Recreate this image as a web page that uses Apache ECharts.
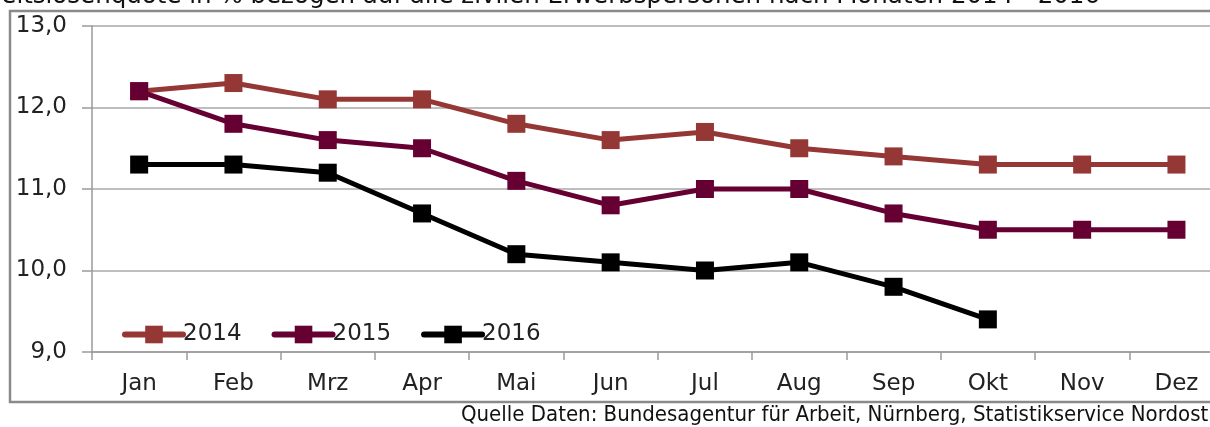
<!DOCTYPE html>
<html>
<head>
<meta charset="utf-8">
<script src="https://cdn.jsdelivr.net/npm/echarts@6/dist/echarts.min.js"></script>
<style>html,body{margin:0;padding:0;background:#fff;}#c{width:1210px;height:427px;}</style>
</head>
<body>
<div id="c"></div>
<script>
const months = ['Jan','Feb','Mrz','Apr','Mai','Jun','Jul','Aug','Sep','Okt','Nov','Dez'];
const s2014 = [12.2, 12.3, 12.1, 12.1, 11.8, 11.6, 11.7, 11.5, 11.4, 11.3, 11.3, 11.3];
const s2015 = [12.2, 11.8, 11.6, 11.5, 11.1, 10.8, 11.0, 11.0, 10.7, 10.5, 10.5, 10.5];
const s2016 = [11.3, 11.3, 11.2, 10.7, 10.2, 10.1, 10.0, 10.1, 9.8, 9.4];
const titleText = 'Arbeitslosenquote in % bezogen auf alle zivilen Erwerbspersonen nach Monaten 2014 - 2016';
const sourceText = 'Quelle Daten: Bundesagentur für Arbeit, Nürnberg, Statistikservice Nordost';

const chart = echarts.init(document.getElementById('c'), null, {renderer: 'canvas'});
const font = '"DejaVu Sans", Verdana, sans-serif';
function mk(name, data, color) {
  return {
    name, type: 'line', data,
    symbol: 'rect', symbolSize: 18,
    lineStyle: {color, width: 5},
    itemStyle: {color},
    emphasis: {disabled: true},
    animation: false
  };
}
chart.setOption({
  animation: false,
  graphic: [
    {type: 'rect', shape: {x: 10, y: 11, width: 1240, height: 391}, style: {fill: 'none', stroke: '#8a8a8a', lineWidth: 2.5}, z: -1},
    {type: 'text', x: 1100, y: 9, style: {text: titleText, textAlign: 'right', textVerticalAlign: 'bottom', font: '24.5px ' + font, fill: '#111'}},
    {type: 'text', x: 461, y: 415, style: {text: sourceText, textAlign: 'left', textVerticalAlign: 'middle', font: '22px "DejaVu Sans Condensed", "DejaVu Sans", sans-serif', fill: '#111'}}
  ],
  legend: {
    left: 117, top: 318,
    itemWidth: 58, itemHeight: 22, itemGap: 30,
    lineStyle: {width: 6, cap: 'round'},
    textStyle: {fontFamily: font, fontSize: 23, color: '#222', padding: [0,0,0,-5]},
    data: ['2014','2015','2016']
  },
  grid: {left: 92, top: 26, width: 1131.6, height: 326, containLabel: false, outerBoundsMode: 'none'},
  xAxis: {
    type: 'category', data: months, boundaryGap: true,
    axisLine: {lineStyle: {color: '#9a9a9a', width: 1.5}},
    axisTick: {show: true, length: 8, lineStyle: {color: '#9a9a9a', width: 1.5}},
    axisLabel: {fontFamily: font, fontSize: 23, color: '#222', margin: 21}
  },
  yAxis: {
    type: 'value', min: 9, max: 13, interval: 1,
    axisLine: {show: true, lineStyle: {color: '#9a9a9a', width: 1.5}},
    axisTick: {show: true, length: 10, lineStyle: {color: '#9a9a9a', width: 1.5}},
    splitLine: {lineStyle: {color: '#a8a8a8', width: 1.5}},
    axisLabel: {fontFamily: font, fontSize: 23, color: '#222', margin: 25, formatter: v => v.toFixed(1).replace('.', ',')}
  },
  series: [mk('2014', s2014, '#953735'), mk('2015', s2015, '#660033'), mk('2016', s2016, '#000000')]
});
</script>
</body>
</html>
